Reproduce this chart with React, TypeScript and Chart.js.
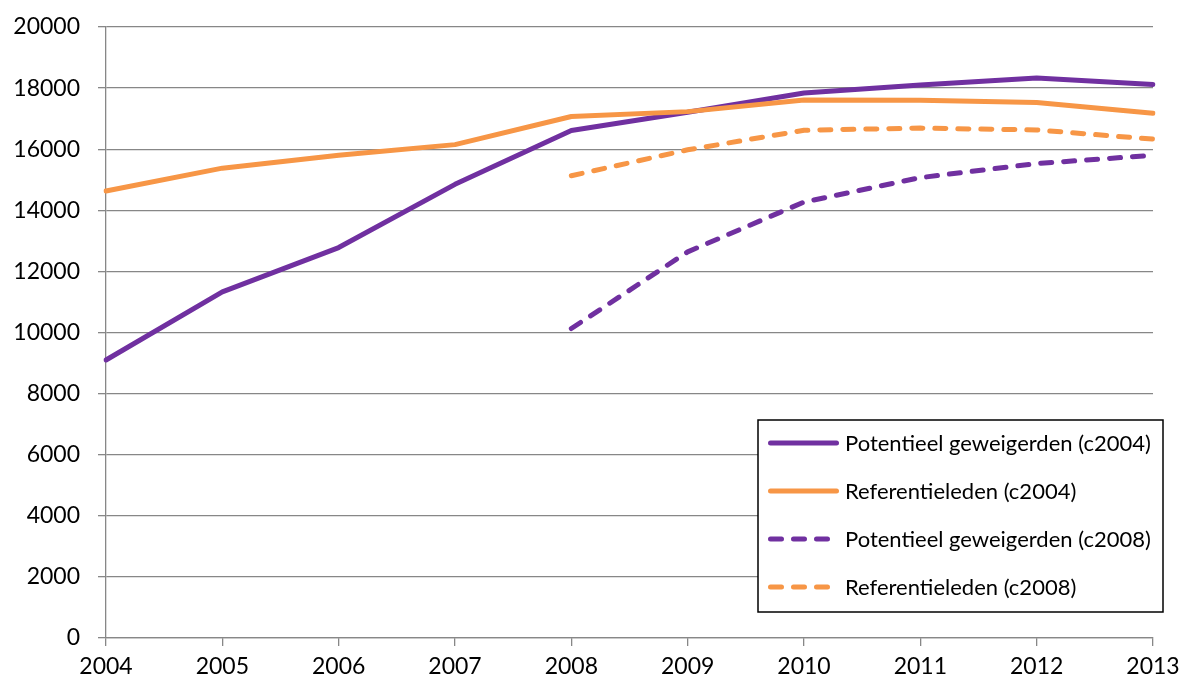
import React, { useEffect, useRef } from "react";
import { Chart, registerables } from "chart.js";

Chart.register(...registerables);

const years = ["2004", "2005", "2006", "2007", "2008", "2009", "2010", "2011", "2012", "2013"];
const potC2004 = [9100, 11330, 12780, 14850, 16610, 17210, 17840, 18100, 18330, 18120];
const refC2004 = [14630, 15380, 15800, 16150, 17070, 17230, 17610, 17600, 17530, 17180];
const potC2008 = [null, null, null, null, 10130, 12640, 14270, 15070, 15530, 15800];
const refC2008 = [null, null, null, null, 15130, 15980, 16620, 16690, 16630, 16330];
const seriesLabels = [
  "Potentieel geweigerden (c2004)",
  "Referentieleden (c2004)",
  "Potentieel geweigerden (c2008)",
  "Referentieleden (c2008)",
];

const PURPLE = "#7030A0";
const ORANGE = "#F79646";
const GRID = "#878787";
const FONT = "Lato";
const DASH = [11, 12];

const boxLegend = {
  id: "boxLegend",
  afterDraw(chart: any) {
    const { ctx, chartArea } = chart;
    const left = chartArea.right - 395;
    const top = chartArea.bottom - 218;
    const w = 405;
    const h = 192;
    ctx.save();
    ctx.fillStyle = "#ffffff";
    ctx.fillRect(left, top, w, h);
    ctx.strokeStyle = "#000000";
    ctx.lineWidth = 1.5;
    ctx.strokeRect(left, top, w, h);
    chart.data.datasets.forEach((ds: any, i: number) => {
      const y = top + 23 + i * 48;
      ctx.beginPath();
      ctx.strokeStyle = ds.borderColor;
      ctx.lineWidth = ds.borderWidth;
      ctx.lineCap = "round";
      ctx.setLineDash(ds.borderDash || []);
      ctx.moveTo(left + 12.5, y);
      ctx.lineTo(left + 78.5, y);
      ctx.stroke();
      ctx.setLineDash([]);
      ctx.fillStyle = "#000000";
      ctx.font = `22px ${FONT}`;
      ctx.textAlign = "left";
      ctx.textBaseline = "middle";
      ctx.fillText(ds.label, left + 87, y + 1);
    });
    ctx.restore();
  },
};

export default function App() {
  const ref = useRef<HTMLCanvasElement | null>(null);
  useEffect(() => {
    if (!ref.current) return;
    const mk = (label: string, data: any[], color: string, dashed: boolean, order: number) => ({
      label,
      data,
      borderColor: color,
      backgroundColor: color,
      borderWidth: 5,
      borderDash: dashed ? DASH : [],
      borderCapStyle: "round",
      borderJoinStyle: "round",
      pointRadius: 0,
      pointHoverRadius: 0,
      tension: 0,
      fill: false,
      order,
    });
    const chart = new Chart(ref.current, {
      type: "line",
      data: {
        labels: years,
        datasets: [
          mk(seriesLabels[0], potC2004, PURPLE, false, 3),
          mk(seriesLabels[1], refC2004, ORANGE, false, 2),
          mk(seriesLabels[2], potC2008, PURPLE, true, 1),
          mk(seriesLabels[3], refC2008, ORANGE, true, 0),
        ] as any,
      },
      options: {
        animation: false,
        responsive: false,
        layout: { padding: { top: 27, right: 29, bottom: 0, left: 0 } },
        plugins: { legend: { display: false }, tooltip: { enabled: false } },
        scales: {
          x: {
            type: "category",
            offset: false,
            grid: { display: true, drawOnChartArea: false, drawTicks: true, tickLength: 8, color: GRID, lineWidth: 1.3 },
            border: { display: true, color: GRID, width: 1.3 },
            ticks: { color: "#000", font: { family: FONT, size: 23 }, padding: 7, maxRotation: 0, autoSkip: false },
            afterFit: (s: any) => {
              s.height = 46;
              s.paddingLeft = 0;
              s.paddingRight = 0;
            },
          },
          y: {
            min: 0,
            max: 20000,
            grid: { color: GRID, lineWidth: 1.3, drawTicks: true, tickLength: 8 },
            border: { display: true, color: GRID, width: 1.3 },
            ticks: {
              stepSize: 2000,
              color: "#000",
              font: { family: FONT, size: 23 },
              padding: 18,
              callback: (v: any) => String(v),
            },
            afterFit: (s: any) => {
              s.width = 106;
              s.paddingTop = 0;
              s.paddingBottom = 0;
            },
          },
        },
      },
      plugins: [boxLegend],
    });
    return () => chart.destroy();
  }, []);
  return (
    <canvas
      ref={ref}
      width={1182}
      height={684}
      style={{ position: "absolute", left: 0, top: 0, display: "block", width: 1182, height: 684 }}
    />
  );
}
